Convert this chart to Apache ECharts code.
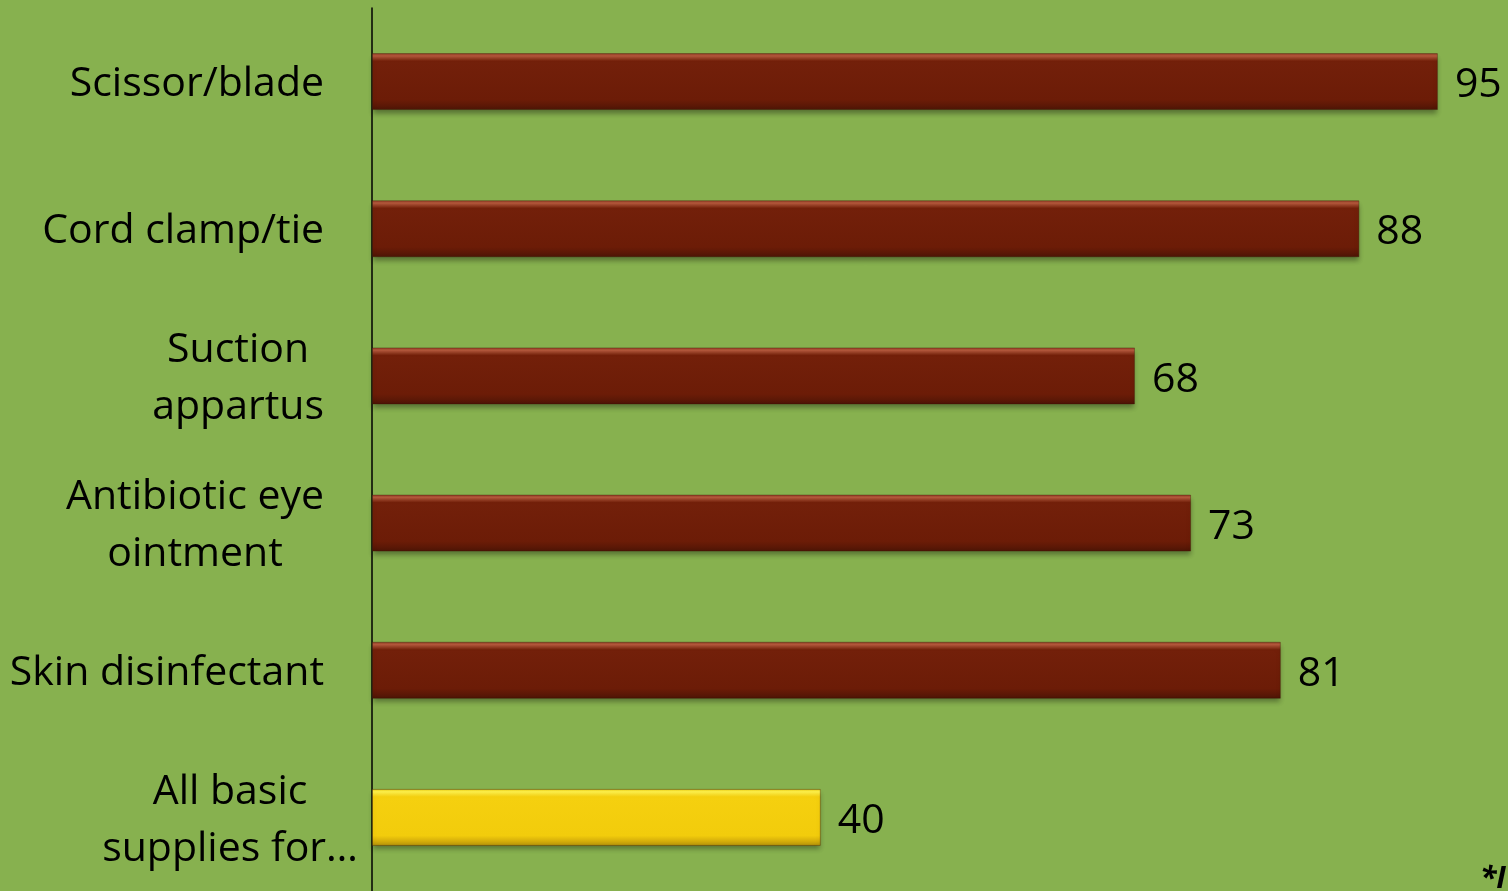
<!DOCTYPE html>
<html>
<head>
<meta charset="utf-8">
<script src="https://cdn.jsdelivr.net/npm/echarts@6/dist/echarts.min.js"></script>
<style>
  html, body { margin: 0; padding: 0; background: #87b14f; }
  #chart { width: 1508px; height: 891px; }
</style>
</head>
<body>
<div id="chart"></div>
<script>
// data
const categories = [
  'Scissor/blade',
  'Cord clamp/tie',
  'Suction\nappartus',
  'Antibiotic eye\nointment',
  'Skin disinfectant',
  'All basic\nsupplies for…'
]
const values = [95, 88, 68, 73, 81, 40]
const highlighted = ['All basic\nsupplies for…']

const redBar = new echarts.graphic.LinearGradient(0, 0, 0, 1, [
  { offset: 0, color: '#8f3a22' },
  { offset: 0.05, color: '#b5593c' },
  { offset: 0.14, color: '#73200a' },
  { offset: 0.82, color: '#6c1c07' },
  { offset: 0.92, color: '#5c1806' },
  { offset: 1, color: '#4a1405' }
])
const yellowBar = new echarts.graphic.LinearGradient(0, 0, 0, 1, [
  { offset: 0, color: '#e8c80c' },
  { offset: 0.05, color: '#fff24c' },
  { offset: 0.14, color: '#f5d00f' },
  { offset: 0.82, color: '#f2cc0c' },
  { offset: 0.92, color: '#d4ad0a' },
  { offset: 1, color: '#b08f0a' }
])

const labelFont = { fontFamily: 'Open Sans', fontSize: 41, lineHeight: 57, color: '#000' }

const chart = echarts.init(document.getElementById('chart'))

chart.setOption({
  backgroundColor: '#87b14f',
  animation: false,
  grid: { left: 372, right: 14, top: 8, bottom: -3 },
  xAxis: {
    type: 'value',
    min: 0,
    max: 100,
    show: false
  },
  yAxis: {
    type: 'category',
    inverse: true,
    data: categories,
    axisLine: { show: true, lineStyle: { color: '#000', width: 1.5 } },
    axisTick: { show: false },
    axisLabel: Object.assign({}, labelFont, {
      margin: 48,
      align: 'right',
      padding: [6, 0, 0, 0],
      formatter: (v) => {
        // the last label runs past its box in the original
        const key = highlighted.includes(v) ? 'o' : 'c'
        return v.split('\n').map((line) => '{' + key + '|' + line + '}').join('\n')
      },
      rich: {
        c: Object.assign({ align: 'center' }, labelFont),
        o: Object.assign({ align: 'center', padding: [0, -34, 0, 0] }, labelFont)
      }
    })
  },
  series: [
    {
      type: 'bar',
      barWidth: 57,
      data: values.map((v, i) => ({
        value: v,
        itemStyle: { color: highlighted.includes(categories[i]) ? yellowBar : redBar }
      })),
      itemStyle: {
        borderColor: 'rgba(60, 20, 5, 0.35)',
        borderWidth: 1,
        shadowColor: 'rgba(0, 0, 0, 0.35)',
        shadowBlur: 5,
        shadowOffsetY: 4
      },
      label: {
        show: true,
        position: 'right',
        distance: 17,
        offset: [0, 4],
        color: '#000',
        fontFamily: 'Open Sans',
        fontSize: 41
      }
    }
  ],
  graphic: [
    {
      type: 'text',
      left: 1480,
      top: 864,
      style: { text: '*I', fontFamily: 'Open Sans', fontStyle: 'italic', fontWeight: 'bold', fontSize: 30, fill: '#000' }
    }
  ]
})
</script>
</body>
</html>
